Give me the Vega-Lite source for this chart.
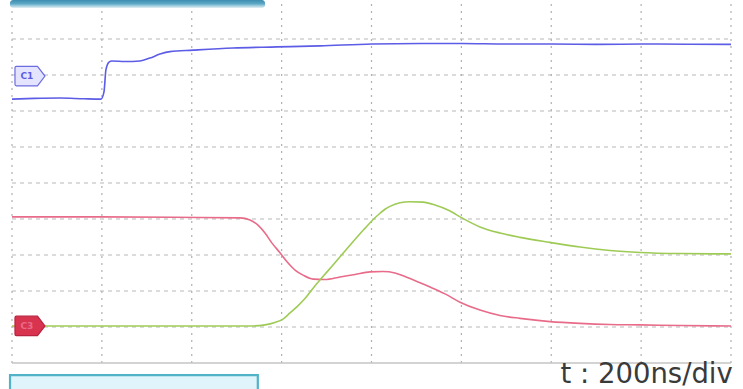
{
  "$schema": "https://vega.github.io/schema/vega-lite/v6.json",
  "width": 743,
  "height": 389,
  "autosize": {"type": "fit", "contains": "padding"},
  "padding": 0,
  "background": "#ffffff",
  "config": {"view": {"stroke": null}},
  "datasets": {
    "hgrid": [
      {"v": 1, "t0": 0, "t1": 1600}, {"v": 2, "t0": 0, "t1": 1600}, {"v": 3, "t0": 0, "t1": 1600},
      {"v": 4, "t0": 0, "t1": 1600}, {"v": 5, "t0": 0, "t1": 1600}, {"v": 6, "t0": 0, "t1": 1600},
      {"v": 7, "t0": 0, "t1": 1600}, {"v": 8, "t0": 0, "t1": 1600}, {"v": 9, "t0": 0, "t1": 1600}
    ],
    "vgrid": [
      {"t": 0, "v0": 0, "v1": 10}, {"t": 200, "v0": 0, "v1": 10}, {"t": 400, "v0": 0, "v1": 10},
      {"t": 600, "v0": 0, "v1": 10}, {"t": 800, "v0": 0, "v1": 10}, {"t": 1000, "v0": 0, "v1": 10},
      {"t": 1200, "v0": 0, "v1": 10}, {"t": 1400, "v0": 0, "v1": 10}, {"t": 1600, "v0": 0, "v1": 10}
    ],
    "floor": [{"v": 0, "t0": 0, "t1": 1600}],
    "traces": [
      {"ch": "C1", "t": 0, "v": 7.33}, {"ch": "C1", "t": 50, "v": 7.35}, {"ch": "C1", "t": 107, "v": 7.36},
      {"ch": "C1", "t": 160, "v": 7.34}, {"ch": "C1", "t": 198, "v": 7.33}, {"ch": "C1", "t": 204.7, "v": 7.53},
      {"ch": "C1", "t": 209, "v": 8.14}, {"ch": "C1", "t": 215.9, "v": 8.36}, {"ch": "C1", "t": 222.5, "v": 8.39},
      {"ch": "C1", "t": 251.5, "v": 8.375}, {"ch": "C1", "t": 284.8, "v": 8.39}, {"ch": "C1", "t": 307, "v": 8.47},
      {"ch": "C1", "t": 329.3, "v": 8.58}, {"ch": "C1", "t": 351.6, "v": 8.65}, {"ch": "C1", "t": 402.8, "v": 8.69},
      {"ch": "C1", "t": 491.8, "v": 8.75}, {"ch": "C1", "t": 589.7, "v": 8.78}, {"ch": "C1", "t": 685.4, "v": 8.81},
      {"ch": "C1", "t": 801, "v": 8.86}, {"ch": "C1", "t": 908, "v": 8.875}, {"ch": "C1", "t": 1001, "v": 8.875},
      {"ch": "C1", "t": 1100, "v": 8.86}, {"ch": "C1", "t": 1201.7, "v": 8.86}, {"ch": "C1", "t": 1300, "v": 8.85},
      {"ch": "C1", "t": 1402, "v": 8.86}, {"ch": "C1", "t": 1500, "v": 8.855}, {"ch": "C1", "t": 1600, "v": 8.85},

      {"ch": "C3", "t": 0, "v": 4.06}, {"ch": "C3", "t": 195.8, "v": 4.06}, {"ch": "C3", "t": 418, "v": 4.04},
      {"ch": "C3", "t": 507, "v": 4.03}, {"ch": "C3", "t": 529.6, "v": 3.97}, {"ch": "C3", "t": 547.4, "v": 3.83},
      {"ch": "C3", "t": 563, "v": 3.61}, {"ch": "C3", "t": 578.6, "v": 3.33}, {"ch": "C3", "t": 596.4, "v": 3.06},
      {"ch": "C3", "t": 612, "v": 2.81}, {"ch": "C3", "t": 629.8, "v": 2.58}, {"ch": "C3", "t": 647.6, "v": 2.44},
      {"ch": "C3", "t": 669.8, "v": 2.33}, {"ch": "C3", "t": 696.5, "v": 2.32}, {"ch": "C3", "t": 730, "v": 2.39},
      {"ch": "C3", "t": 763.3, "v": 2.46}, {"ch": "C3", "t": 796.7, "v": 2.53}, {"ch": "C3", "t": 825.6, "v": 2.54},
      {"ch": "C3", "t": 852.3, "v": 2.5}, {"ch": "C3", "t": 874.5, "v": 2.4}, {"ch": "C3", "t": 903.5, "v": 2.25},
      {"ch": "C3", "t": 930.2, "v": 2.11}, {"ch": "C3", "t": 963.6, "v": 1.92}, {"ch": "C3", "t": 997, "v": 1.69},
      {"ch": "C3", "t": 1041.4, "v": 1.47}, {"ch": "C3", "t": 1086, "v": 1.32}, {"ch": "C3", "t": 1130.5, "v": 1.24},
      {"ch": "C3", "t": 1197.2, "v": 1.15}, {"ch": "C3", "t": 1264, "v": 1.1}, {"ch": "C3", "t": 1330.7, "v": 1.07},
      {"ch": "C3", "t": 1397.5, "v": 1.06}, {"ch": "C3", "t": 1486.5, "v": 1.04}, {"ch": "C3", "t": 1600, "v": 1.03},

      {"ch": "C4", "t": 0, "v": 1.03}, {"ch": "C4", "t": 529.6, "v": 1.03}, {"ch": "C4", "t": 563, "v": 1.06},
      {"ch": "C4", "t": 585, "v": 1.125}, {"ch": "C4", "t": 603, "v": 1.22}, {"ch": "C4", "t": 618.6, "v": 1.39},
      {"ch": "C4", "t": 634, "v": 1.56}, {"ch": "C4", "t": 652, "v": 1.79}, {"ch": "C4", "t": 674, "v": 2.14},
      {"ch": "C4", "t": 692, "v": 2.4}, {"ch": "C4", "t": 712, "v": 2.69}, {"ch": "C4", "t": 730, "v": 2.95},
      {"ch": "C4", "t": 752, "v": 3.27}, {"ch": "C4", "t": 768, "v": 3.5}, {"ch": "C4", "t": 785.5, "v": 3.74},
      {"ch": "C4", "t": 803.3, "v": 3.98}, {"ch": "C4", "t": 819, "v": 4.16}, {"ch": "C4", "t": 830, "v": 4.27},
      {"ch": "C4", "t": 841, "v": 4.35}, {"ch": "C4", "t": 863.4, "v": 4.45}, {"ch": "C4", "t": 885.7, "v": 4.48},
      {"ch": "C4", "t": 914.6, "v": 4.47}, {"ch": "C4", "t": 941.3, "v": 4.39}, {"ch": "C4", "t": 970.2, "v": 4.25},
      {"ch": "C4", "t": 1001.4, "v": 4.03},
      {"ch": "C4", "t": 1041.4, "v": 3.78}, {"ch": "C4", "t": 1086, "v": 3.61}, {"ch": "C4", "t": 1130.5, "v": 3.49},
      {"ch": "C4", "t": 1197.2, "v": 3.35}, {"ch": "C4", "t": 1264, "v": 3.22}, {"ch": "C4", "t": 1330.7, "v": 3.125},
      {"ch": "C4", "t": 1397.5, "v": 3.07}, {"ch": "C4", "t": 1486.5, "v": 3.04}, {"ch": "C4", "t": 1600, "v": 3.03}
    ],
    "tags": [
      {"ch": "C1", "t": 40, "v": 7.97, "lt": 33},
      {"ch": "C3", "t": 40, "v": 1.03, "lt": 33}
    ],
    "header": [{"t0": -4.4, "t1": 563, "v0": 10.083, "v1": 9.86}],
    "footer": [{"t0": -4.4, "t1": 547, "v0": -0.335, "v1": -0.8}],
    "caption": [{"t": 1604, "v": -0.722, "label": "t : 200ns/div"}]
  },
  "layer": [
    {
      "data": {"name": "hgrid"},
      "mark": {"type": "rule", "color": "#b8b8b8", "strokeWidth": 1, "strokeDash": [4, 4]},
      "encoding": {
        "y": {"field": "v", "type": "quantitative", "scale": {"domain": [-0.722, 10.083], "nice": false, "zero": false}, "axis": null},
        "x": {"field": "t0", "type": "quantitative", "scale": {"domain": [-26.7, 1626.7], "nice": false, "zero": false}, "axis": null},
        "x2": {"field": "t1"}
      }
    },
    {
      "data": {"name": "vgrid"},
      "mark": {"type": "rule", "color": "#b0b0b0", "strokeWidth": 1.2, "strokeDash": [2, 5]},
      "encoding": {
        "x": {"field": "t", "type": "quantitative"},
        "y": {"field": "v0", "type": "quantitative"},
        "y2": {"field": "v1"}
      }
    },
    {
      "data": {"name": "floor"},
      "mark": {"type": "rule", "color": "#c4c4c4", "strokeWidth": 1.5},
      "encoding": {
        "y": {"field": "v", "type": "quantitative"},
        "x": {"field": "t0", "type": "quantitative"},
        "x2": {"field": "t1"}
      }
    },
    {
      "data": {"name": "traces"},
      "mark": {"type": "line", "strokeWidth": 1.6, "interpolate": "monotone"},
      "encoding": {
        "x": {"field": "t", "type": "quantitative"},
        "y": {"field": "v", "type": "quantitative"},
        "color": {"field": "ch", "type": "nominal", "legend": null,
          "scale": {"domain": ["C1", "C3", "C4"], "range": ["#5c5ce6", "#e86c8a", "#9ecb55"]}}
      }
    },
    {
      "data": {"name": "tags"},
      "mark": {"type": "point", "filled": true, "size": 900, "strokeWidth": 1.2,
        "shape": "M-1,-0.55 Q-1,-0.65 -0.9,-0.65 L0.5,-0.65 L1,0 L0.5,0.65 L-0.9,0.65 Q-1,0.65 -1,0.55 Z"},
      "encoding": {
        "x": {"field": "t", "type": "quantitative"},
        "y": {"field": "v", "type": "quantitative"},
        "fill": {"field": "ch", "type": "nominal", "legend": null,
          "scale": {"domain": ["C1", "C3"], "range": ["#e4e4ff", "#d8344f"]}},
        "stroke": {"field": "ch", "type": "nominal", "legend": null,
          "scale": {"domain": ["C1", "C3"], "range": ["#6c6ce0", "#b8233f"]}},
        "opacity": {"value": 1}
      }
    },
    {
      "data": {"name": "tags"},
      "mark": {"type": "text", "fontSize": 9, "fontWeight": "bold", "font": "DejaVu Sans", "align": "center", "baseline": "middle"},
      "encoding": {
        "x": {"field": "lt", "type": "quantitative"},
        "y": {"field": "v", "type": "quantitative"},
        "text": {"field": "ch"},
        "color": {"field": "ch", "type": "nominal", "legend": null,
          "scale": {"domain": ["C1", "C3"], "range": ["#4040c8", "#f6c8d0"]}}
      }
    },
    {
      "data": {"name": "header"},
      "mark": {"type": "rect", "cornerRadius": 3, "clip": true,
        "color": {"gradient": "linear", "x1": 0, "y1": 0, "x2": 0, "y2": 1,
          "stops": [{"offset": 0, "color": "#3f8db0"}, {"offset": 0.45, "color": "#5aa6c4"}, {"offset": 1, "color": "#e4f1f6"}]}},
      "encoding": {
        "x": {"field": "t0", "type": "quantitative"},
        "x2": {"field": "t1"},
        "y": {"field": "v0", "type": "quantitative"},
        "y2": {"field": "v1"}
      }
    },
    {
      "data": {"name": "footer"},
      "mark": {"type": "rect", "fill": "#dff5fb", "stroke": "#52b2c8", "strokeWidth": 2.2, "clip": true},
      "encoding": {
        "x": {"field": "t0", "type": "quantitative"},
        "x2": {"field": "t1"},
        "y": {"field": "v0", "type": "quantitative"},
        "y2": {"field": "v1"}
      }
    },
    {
      "data": {"name": "caption"},
      "mark": {"type": "text", "font": "DejaVu Sans", "fontSize": 27.5, "align": "right", "baseline": "bottom", "color": "#3a3a3a"},
      "encoding": {
        "x": {"field": "t", "type": "quantitative"},
        "y": {"field": "v", "type": "quantitative"},
        "text": {"field": "label"}
      }
    }
  ]
}
